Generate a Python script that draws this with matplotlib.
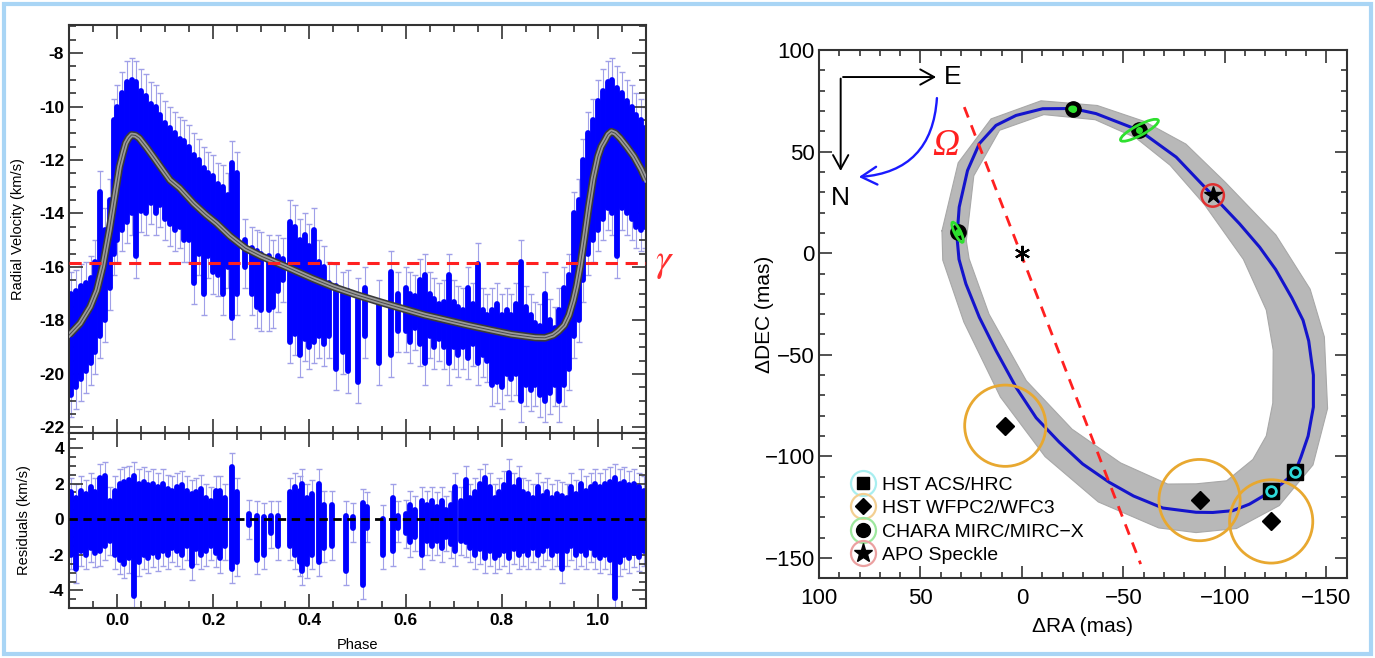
import matplotlib
matplotlib.use("Agg")
import matplotlib.pyplot as plt
from matplotlib.ticker import MultipleLocator, FuncFormatter
from matplotlib.patches import Circle, Ellipse, Polygon, Rectangle, FancyArrowPatch
from matplotlib.lines import Line2D
from matplotlib.legend_handler import HandlerTuple

plt.rcParams["font.family"] = ["Liberation Sans", "DejaVu Sans"]
plt.rcParams["axes.unicode_minus"] = False
plt.rcParams["mathtext.fontset"] = "stix"

# ---------------- left panel data ----------------
gamma = -15.85
rv_err = 0.8

model_phase = [-0.100, -0.077, -0.056, -0.042, -0.030, -0.016, -0.005, 0.005, 0.012, 0.018,
               0.024, 0.030, 0.038, 0.046, 0.060, 0.075, 0.090, 0.110, 0.130, 0.159,
               0.185, 0.207, 0.235, 0.267, 0.300, 0.351, 0.406, 0.450, 0.499, 0.550,
               0.592, 0.640, 0.685, 0.730, 0.777, 0.820, 0.870, 0.890, 0.907, 0.918,
               0.930, 0.940, 0.949, 0.956, 0.963, 0.972, 0.981, 0.990, 1.000, 1.007,
               1.015, 1.021, 1.028, 1.036, 1.046, 1.060, 1.075, 1.090, 1.100]
model_rv = [-18.55, -18.11, -17.49, -16.87, -15.99, -14.62, -13.37, -12.25, -11.75, -11.37,
            -11.18, -11.06, -11.08, -11.18, -11.50, -11.87, -12.25, -12.75, -13.05, -13.62,
            -14.05, -14.37, -14.85, -15.30, -15.60, -15.99, -16.43, -16.75, -17.05, -17.33,
            -17.55, -17.80, -17.99, -18.18, -18.36, -18.52, -18.64, -18.65, -18.55, -18.40,
            -18.18, -17.80, -17.25, -16.70, -15.99, -14.90, -13.74, -12.70, -11.87, -11.50,
            -11.25, -11.05, -10.94, -11.00, -11.18, -11.50, -11.87, -12.35, -12.75]

# stacks of RV points: phase, lowest and highest value in the stack
rv_col_phase = [-0.095, -0.085, -0.075, -0.065, -0.055, -0.045, -0.035, -0.025, -0.015, -0.007,
                0.00, 0.01, 0.02, 0.03, 0.04, 0.05, 0.06, 0.07, 0.08, 0.09,
                0.10, 0.11, 0.12, 0.13, 0.14, 0.15, 0.16, 0.17, 0.18, 0.19,
                0.20, 0.21, 0.22, 0.23, 0.24, 0.25, 0.265, 0.28, 0.29, 0.30,
                0.315, 0.325, 0.335, 0.345, 0.36, 0.37, 0.38, 0.39, 0.40, 0.41,
                0.42, 0.43, 0.44, 0.455, 0.47, 0.48, 0.50, 0.515, 0.545, 0.57,
                0.585, 0.60, 0.61, 0.62, 0.63, 0.64, 0.65, 0.66, 0.67, 0.68,
                0.69, 0.70, 0.71, 0.72, 0.73, 0.74, 0.75, 0.76, 0.77, 0.78,
                0.79, 0.80, 0.81, 0.82, 0.83, 0.84, 0.85, 0.86, 0.87, 0.88,
                0.89, 0.90, 0.91, 0.92, 0.93, 0.94, 0.95, 0.96, 0.97, 0.98,
                0.99, 1.00, 1.01, 1.02, 1.03, 1.04, 1.05, 1.06, 1.07, 1.08,
                1.09, 1.098]
rv_col_hi = [-17.0, -16.9, -16.7, -16.6, -16.4, -15.8, -13.2, -14.6, -13.5, -10.5,
             -10.0, -9.5, -9.1, -9.0, -9.1, -9.4, -9.6, -9.9, -10.0, -10.3,
             -10.6, -10.8, -11.0, -11.2, -11.3, -11.5, -11.8, -12.0, -12.3, -12.5,
             -12.6, -12.9, -13.0, -13.3, -12.1, -12.5, -15.0, -15.3, -15.4, -15.5,
             -15.6, -15.8, -15.6, -15.7, -14.3, -14.5, -15.0, -14.8, -15.2, -14.6,
             -15.8, -16.0, -16.6, -16.7, -17.0, -16.9, -17.2, -16.8, -17.3, -16.2,
             -17.0, -16.8, -17.0, -17.1, -16.5, -16.3, -17.0, -17.2, -17.4, -17.3,
             -16.3, -17.3, -17.5, -17.6, -16.8, -17.4, -15.9, -17.6, -17.8, -17.6,
             -17.4, -17.8, -17.6, -17.8, -17.4, -15.8, -17.5, -17.8, -18.1, -18.2,
             -17.0, -18.0, -18.3, -17.6, -16.8, -16.3, -14.0, -13.5, -12.0, -11.0,
             -10.5, -9.8, -9.4, -9.1, -9.0, -9.3, -9.5, -9.8, -10.0, -10.3,
             -10.5, -10.8]
rv_col_lo = [-20.8, -20.5, -20.2, -19.9, -19.6, -19.2, -18.6, -18.0, -16.8, -15.5,
             -15.0, -14.6, -14.3, -14.0, -15.6, -13.9, -14.0, -13.6, -14.0, -13.7,
             -14.2, -14.4, -14.6, -14.5, -15.0, -15.0, -16.6, -15.5, -17.0, -15.6,
             -16.2, -16.3, -17.0, -16.0, -17.9, -17.0, -16.0, -17.0, -17.5, -17.6,
             -17.6, -17.5, -16.9, -16.5, -18.8, -18.5, -19.3, -18.7, -19.0, -18.8,
             -18.6, -18.9, -18.6, -19.8, -19.2, -19.9, -20.3, -18.6, -19.6, -19.3,
             -18.4, -18.4, -18.8, -18.3, -18.9, -19.6, -18.6, -19.0, -18.7, -19.0,
             -19.6, -19.0, -19.3, -19.0, -19.4, -18.9, -19.6, -19.3, -19.5, -20.4,
             -20.3, -20.5, -20.0, -20.2, -20.0, -21.0, -20.4, -20.6, -20.4, -20.8,
             -21.0, -20.7, -20.4, -21.0, -20.4, -19.8, -18.6, -18.0, -16.5, -15.5,
             -15.0, -14.6, -14.2, -13.8, -14.0, -15.6, -13.8, -14.0, -14.2, -14.5,
             -14.6, -14.5]

res_err = 0.8
res_col_phase = [-0.095, -0.085, -0.075, -0.065, -0.055, -0.045, -0.035, -0.025, -0.015, -0.005,
                 0.005, 0.015, 0.025, 0.035, 0.045, 0.055, 0.065, 0.075, 0.085, 0.095,
                 0.105, 0.115, 0.125, 0.135, 0.145, 0.155, 0.165, 0.175, 0.185, 0.195,
                 0.205, 0.215, 0.225, 0.24, 0.25, 0.275, 0.29, 0.305, 0.32, 0.335,
                 0.36, 0.37, 0.38, 0.385, 0.395, 0.405, 0.42, 0.43, 0.448, 0.476,
                 0.49, 0.512, 0.52, 0.552, 0.573, 0.585, 0.60, 0.61, 0.62, 0.634,
                 0.645, 0.655, 0.665, 0.675, 0.685, 0.695, 0.703, 0.715, 0.726, 0.735,
                 0.745, 0.755, 0.765, 0.775, 0.785, 0.795, 0.805, 0.815, 0.825, 0.835,
                 0.845, 0.855, 0.865, 0.875, 0.885, 0.895, 0.905, 0.915, 0.926, 0.935,
                 0.945, 0.955, 0.965, 0.975, 0.985, 0.995, 1.005, 1.015, 1.025, 1.035,
                 1.045, 1.055, 1.065, 1.075, 1.085, 1.095]
res_col_lo = [-2.0, -2.8, -1.8, -2.0, -1.6, -1.9, -1.8, -1.5, -1.2, -2.0,
              -2.3, -2.5, -2.2, -4.3, -2.4, -2.0, -2.2, -1.9, -2.1, -1.8,
              -2.0, -1.6, -1.8, -2.0, -1.5, -2.6, -1.7, -2.0, -1.8, -1.5,
              -1.9, -2.2, -1.5, -2.8, -2.4, -0.3, -2.3, -2.0, -0.8, -1.5,
              -1.5, -2.0, -2.4, -2.9, -2.5, -2.0, -2.4, -1.6, -1.5, -2.9,
              -0.5, -3.7, -0.5, -2.0, -1.8, -0.5, -0.8, -1.3, -1.0, -2.0,
              -1.2, -1.5, -1.2, -1.6, -1.0, -1.4, -1.8, -1.2, -1.3, -1.6,
              -2.0, -1.7, -2.2, -1.8, -2.2, -2.0, -1.8, -2.2, -1.7, -2.0,
              -1.8, -2.0, -1.6, -2.0, -1.8, -1.5, -2.0, -1.8, -2.8, -1.8,
              -1.5, -2.0, -1.8, -2.0, -1.6, -2.0, -2.2, -2.0, -2.3, -4.4,
              -2.4, -2.0, -2.2, -1.9, -2.1, -1.8]
res_col_hi = [1.5, 1.2, 1.6, 1.4, 1.8, 1.5, 2.3, 2.4, 1.0, 1.6,
              2.0, 2.1, 2.2, 2.4, 2.0, 2.1, 1.9, 2.0, 1.8, 2.0,
              1.7, 1.6, 1.8, 1.9, 1.6, 1.4, 1.5, 1.7, 1.2, 1.0,
              1.6, 1.6, 1.2, 2.9, 1.5, 0.3, 0.2, 0.1, 0.2, 0.2,
              1.5, 1.8, 1.6, 2.0, 1.2, 1.4, 2.0, 0.8, 0.8, 0.2,
              0.1, 0.9, 0.7, 0.0, 1.2, 0.2, 0.3, 0.8, 0.5, 1.0,
              0.8, 1.0, 0.7, 1.0, 0.5, 0.8, 1.8, 1.0, 2.2, 1.2,
              1.5, 2.0, 2.3, 1.8, 1.2, 1.5, 1.9, 2.6, 1.8, 2.2,
              1.5, 1.4, 1.2, 1.8, 1.3, 1.5, 1.2, 1.4, 1.3, 1.2,
              1.8, 1.4, 2.0, 1.6, 1.8, 2.0, 1.8, 2.0, 2.1, 2.3,
              2.0, 2.1, 1.9, 2.0, 1.8, 1.6]

# ---------------- right panel data (mas) ----------------
orbit_ra = [32.0, 30.9, 26.8, 21.0, 12.8, 2.9, -10.2, -25.0, -36.5, -57.9,
            -76.0, -94.0, -107.2, -117.1, -125.0, -133.0, -138.5, -141.3, -143.6, -143.6,
            -141.0, -137.4, -134.5, -128.0, -122.8, -112.1, -103.9, -94.0, -85.8, -69.4,
            -55.0, -43.1, -29.9, -18.4, -7.0, 2.9, 12.8, 21.0, 27.6, 31.0, 32.0]
orbit_dec = [8.0, 22.7, 40.7, 53.9, 62.9, 67.8, 71.1, 71.2, 68.7, 60.4,
             47.3, 28.4, 14.5, 3.0, -8.0, -22.0, -33.0, -43.2, -60.0, -75.7,
             -90.0, -100.5, -107.9, -113.5, -117.2, -123.5, -126.7, -127.6, -127.5, -125.4,
             -119.5, -112.8, -103.7, -93.0, -81.0, -66.0, -47.9, -31.5, -15.1, -3.0, 8.0]

band_out_ra = [39.4, 31.4, 15.2, -9.4, -37.1, -60.2, -80.8, -100.3, -125.1, -142.0, -149.0,
               -150.6, -143.4, -126.8, -105.7, -85.8, -67.4, -37.6, -11.4, 10.6, 28.6, 39.0, 39.4]
band_out_dec = [11.0, 44.5, 66.1, 75.0, 72.7, 64.9, 53.7, 34.8, 9.0, -17.7, -41.2,
                -76.4, -104.2, -124.2, -135.5, -137.5, -135.2, -122.4, -100.1, -70.8, -33.9, -3.4, 11.0]
band_in_ra = [27.4, 23.7, 11.0, -10.8, -36.1, -56.1, -73.0, -89.8, -109.1, -120.4, -123.8,
              -123.6, -120.4, -113.8, -100.9, -85.8, -71.8, -48.6, -24.7, -2.2, 16.2, 26.0, 27.4]
band_in_dec = [6.1, 38.1, 60.5, 68.2, 65.7, 56.8, 43.3, 24.1, -3.0, -28.0, -47.7,
               -73.7, -89.9, -101.5, -112.0, -113.5, -113.6, -103.2, -86.6, -62.8, -30.0, -2.8, 6.1]

node_ra = [28.4, -58.5]
node_dec = [71.9, -153.0]

acs_ra = [-122.8, -134.5]
acs_dec = [-117.2, -107.9]
wfpc_ra = [8.2, -87.5, -122.8]
wfpc_dec = [-84.9, -121.5, -132.0]
wfpc_rad = [20.0, 20.0, 20.5]
chara_ra = [31.7, -25.0, -57.9]
chara_dec = [10.3, 71.0, 60.5]
chara_ell_w = [11.0, 3.0, 21.0]
chara_ell_h = [3.0, 2.0, 5.0]
chara_ell_ang = [63.0, 0.0, 152.0]
apo_ra = [-94.0]
apo_dec = [28.4]

# ---------------- figure ----------------
fig = plt.figure(figsize=(13.75, 6.58), dpi=100)
fig.patches.append(Rectangle((0.003, 0.006), 0.994, 0.988, transform=fig.transFigure,
                             fill=False, ec="#a9d5f5", lw=3))

ax1 = fig.add_axes([0.0502, 0.3424, 0.4196, 0.6196])
ax2 = fig.add_axes([0.0502, 0.0755, 0.4196, 0.2669])
ax3 = fig.add_axes([0.5956, 0.1211, 0.3838, 0.8029])

blue = "#0000ff"
errc = "#a0a0e8"


def draw_columns(ax, xs, lo, hi, err):
    ax.vlines(xs, [v - err for v in lo], [v + err for v in hi], color=errc, lw=0.8, zorder=1)
    ax.plot(xs, [v - err for v in lo], ls="none", marker="_", ms=5, color=errc, zorder=1)
    ax.plot(xs, [v + err for v in hi], ls="none", marker="_", ms=5, color=errc, zorder=1)
    ax.vlines(xs, lo, hi, color=blue, lw=4.2, capstyle="round", zorder=2)


hyph = FuncFormatter(lambda v, p: f"{v:.0f}")

# RV panel
draw_columns(ax1, rv_col_phase, rv_col_lo, rv_col_hi, rv_err)
ax1.plot(model_phase, model_rv, color="#3a3a3a", lw=5.5, zorder=3, solid_capstyle="butt")
ax1.plot(model_phase, model_rv, color="#9a9a9a", lw=3.2, zorder=4)
ax1.plot(model_phase, model_rv, color="#4a4a4a", lw=0.7, zorder=5)
ax1.axhline(gamma, color="#ff2020", ls=(0, (4, 2.5)), lw=2.2, zorder=6)
ax1.text(1.033, gamma, r"$\gamma$", transform=ax1.get_yaxis_transform(),
         color="#ff3030", fontsize=28, ha="center", va="center")
ax1.set_xlim(-0.1, 1.1)
ax1.set_ylim(-22.2, -6.95)
ax1.yaxis.set_major_locator(MultipleLocator(2))
ax1.yaxis.set_minor_locator(MultipleLocator(0.5))
ax1.yaxis.set_major_formatter(hyph)
ax1.set_ylabel("Radial Velocity (km/s)", fontsize=10.5)
ax1.yaxis.set_label_coords(-0.076, 0.5)

# residual panel
draw_columns(ax2, res_col_phase, res_col_lo, res_col_hi, res_err)
ax2.axhline(0.0, color="black", ls=(0, (3, 2)), lw=2, zorder=6)
ax2.set_xlim(-0.1, 1.1)
ax2.set_ylim(-5.0, 4.85)
ax2.yaxis.set_major_locator(MultipleLocator(2))
ax2.yaxis.set_minor_locator(MultipleLocator(0.5))
ax2.yaxis.set_major_formatter(hyph)
ax2.set_ylabel("Residuals (km/s)", fontsize=10.5)
ax2.yaxis.set_label_coords(-0.066, 0.5)
ax2.set_xlabel("Phase", fontsize=10.5, labelpad=7)

for ax in (ax1, ax2):
    ax.xaxis.set_major_locator(MultipleLocator(0.2))
    ax.xaxis.set_minor_locator(MultipleLocator(0.05))
    ax.tick_params(which="both", direction="in", top=True, right=True, labelsize=12.5,
                   width=1.2, color="#333333")
    ax.tick_params(which="major", length=10)
    ax.tick_params(which="minor", length=5)
    for s in ax.spines.values():
        s.set_linewidth(1.5)
        s.set_color("#333333")
    for lab in ax.get_xticklabels() + ax.get_yticklabels():
        lab.set_fontweight("bold")
ax1.tick_params(labelbottom=False)
ax2.xaxis.set_major_formatter(FuncFormatter(lambda v, p: f"{v:.1f}"))

# orbit panel
ax3.add_patch(Polygon(list(zip(band_out_ra + band_in_ra[::-1], band_out_dec + band_in_dec[::-1])),
                      closed=True, fc="#b8b8b8", ec="none", zorder=1))
ax3.plot(band_out_ra, band_out_dec, color="#a8a8a8", lw=0.8, zorder=1)
ax3.plot(band_in_ra, band_in_dec, color="#a8a8a8", lw=0.8, zorder=1)
ax3.plot(orbit_ra, orbit_dec, color="#1414cc", lw=2.2, zorder=3)
ax3.plot(node_ra, node_dec, color="#ff2020", ls=(0, (4, 3)), lw=2, zorder=4)
ax3.plot([0], [0], marker=(6, 2, 0), ms=11, mew=1.5, color="black", ls="none", zorder=6)

for x, y, r in zip(wfpc_ra, wfpc_dec, wfpc_rad):
    ax3.add_patch(Circle((x, y), r, fill=False, ec="#e8a830", lw=2, zorder=5))
ax3.plot(wfpc_ra, wfpc_dec, "D", color="black", ms=9.5, ls="none", zorder=6)

ax3.plot(acs_ra, acs_dec, "s", color="black", ms=11, ls="none", zorder=6)
ax3.plot(acs_ra, acs_dec, "o", mfc="none", mec="#2ed8d8", mew=2, ms=7, ls="none", zorder=7)

ax3.plot(chara_ra, chara_dec, "o", color="black", ms=11, ls="none", zorder=6)
ax3.plot(chara_ra, chara_dec, "o", color="#2ee02e", ms=4, ls="none", zorder=7)
for x, y, w, h, a in zip(chara_ra, chara_dec, chara_ell_w, chara_ell_h, chara_ell_ang):
    ax3.add_patch(Ellipse((x, y), w, h, angle=a, fill=False, ec="#2ee02e", lw=2, zorder=8))

for x, y in zip(apo_ra, apo_dec):
    ax3.add_patch(Circle((x, y), 5.5, fill=False, ec="#e03030", lw=1.8, zorder=5))
ax3.plot(apo_ra, apo_dec, "*", color="black", ms=13, ls="none", zorder=6)

# compass
head = "->,head_length=1.0,head_width=0.55"
ax3.annotate("", xy=(40.9, 86.7), xytext=(89.5, 86.7),
             arrowprops=dict(arrowstyle=head, color="black", lw=1.4))
ax3.annotate("", xy=(89.3, 39.1), xytext=(89.3, 87.3),
             arrowprops=dict(arrowstyle=head, color="black", lw=1.4))
ax3.text(34.0, 86.7, "E", fontsize=19, ha="center", va="center")
ax3.text(89.3, 27.0, "N", fontsize=19, ha="center", va="center")
ax3.add_patch(FancyArrowPatch((41.8, 77.7), (81.7, 37.4), connectionstyle="arc3,rad=-0.45",
                              arrowstyle="->,head_length=0.7,head_width=0.4", color="#1a1aff",
                              lw=1.7, mutation_scale=16))
ax3.text(37.4, 53.1, "\u03a9", fontsize=27, color="#ff2020", ha="center", va="center",
         family="Liberation Serif", style="italic")

ring = dict(ls="none", marker="o", ms=18, mfc="none", mew=1.6)
handles = [
    (Line2D([], [], mec="#a8eef0", **ring), Line2D([], [], ls="none", marker="s", color="black", ms=9)),
    (Line2D([], [], mec="#f3cf92", **ring), Line2D([], [], ls="none", marker="D", color="black", ms=8)),
    (Line2D([], [], mec="#9ee89e", **ring), Line2D([], [], ls="none", marker="o", color="black", ms=10)),
    (Line2D([], [], mec="#eba0a0", **ring), Line2D([], [], ls="none", marker="*", color="black", ms=14)),
]
labels = ["HST ACS/HRC", "HST WFPC2/WFC3", "CHARA MIRC/MIRC\u2212X", "APO Speckle"]
ax3.legend(handles, labels, handler_map={tuple: HandlerTuple(ndivide=1)}, loc="lower left",
           bbox_to_anchor=(0.035, 0.005), frameon=False, fontsize=14, labelspacing=0.3,
           handletextpad=0.3, handlelength=1.4, borderaxespad=0.2)

ax3.set_xlim(100, -160)
ax3.set_ylim(-160, 100)
ax3.xaxis.set_major_locator(MultipleLocator(50))
ax3.xaxis.set_minor_locator(MultipleLocator(10))
ax3.yaxis.set_major_locator(MultipleLocator(50))
ax3.yaxis.set_minor_locator(MultipleLocator(10))
minus = FuncFormatter(lambda v, p: f"{v:.0f}".replace("-", "\u2212"))
ax3.xaxis.set_major_formatter(minus)
ax3.yaxis.set_major_formatter(minus)
ax3.tick_params(which="both", direction="in", top=True, right=True, labelsize=16,
                width=1.2, color="#333333")
ax3.tick_params(axis="x", pad=7)
ax3.tick_params(axis="y", pad=3)
ax3.tick_params(which="major", length=9)
ax3.tick_params(which="minor", length=4.5)
for s in ax3.spines.values():
    s.set_linewidth(1.5)
    s.set_color("#333333")
ax3.set_xlabel("\u0394RA (mas)", fontsize=15)
ax3.set_ylabel("\u0394DEC (mas)", fontsize=15)
ax3.xaxis.set_label_coords(0.5, -0.073)
ax3.yaxis.set_label_coords(-0.085, 0.5)

fig.savefig("out.png", dpi=100)
